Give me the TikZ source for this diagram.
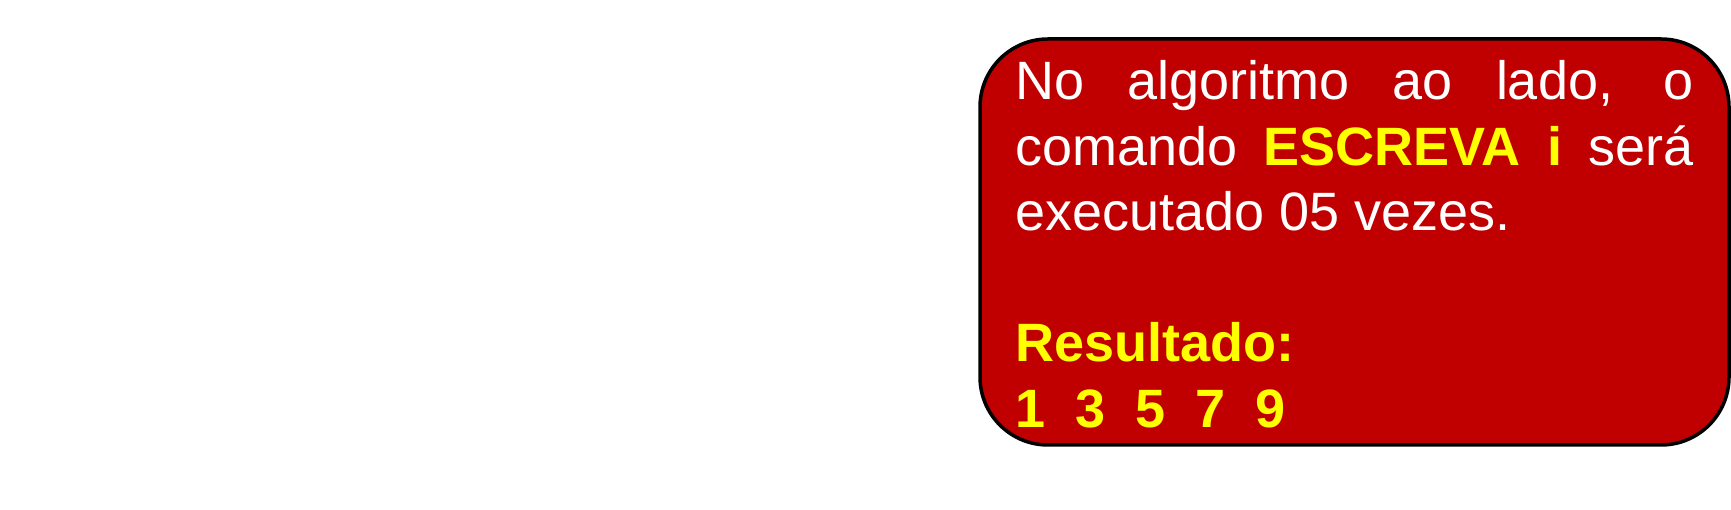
\documentclass[tikz,border=0pt]{standalone}
\usepackage{fontspec}
\setmainfont{Liberation Sans}
\usepackage{tikz}
\usetikzlibrary{positioning}
\usepackage{xcolor}
\definecolor{vermelho}{HTML}{C00000}
\definecolor{amarelo}{HTML}{FFFF00}
\setlength{\parindent}{0pt}

\begin{document}
\begin{tikzpicture}[x=1pt,y=1pt]
    \tikzstyle{caixa}=[rectangle, draw=black, line width=3.5pt, fill=vermelho, rounded corners=68pt, inner sep=0pt, minimum width=749pt, minimum height=406pt]
    \tikzstyle{texto}=[inner sep=0pt, text width=678pt, align=justify, text=white, font=\fontsize{54}{65.5}\selectfont]
    \useasboundingbox (0,0) rectangle (1731,510);
    \node[caixa] (aviso) at (1354.5,268) {};
    \node[texto, below right=23pt and 37pt of aviso.north west] (frase) {\tolerance=10000\hyphenpenalty=10000
      No algoritmo ao lado, o comando \textbf{\color{amarelo}ESCREVA i} será executado 05 vezes.\par
      \mbox{}\par
      {\bfseries\color{amarelo}Resultado:\par
      1\ \ 3\ \ 5\ \ 7\ \ 9\par}};
\end{tikzpicture}
\end{document}
